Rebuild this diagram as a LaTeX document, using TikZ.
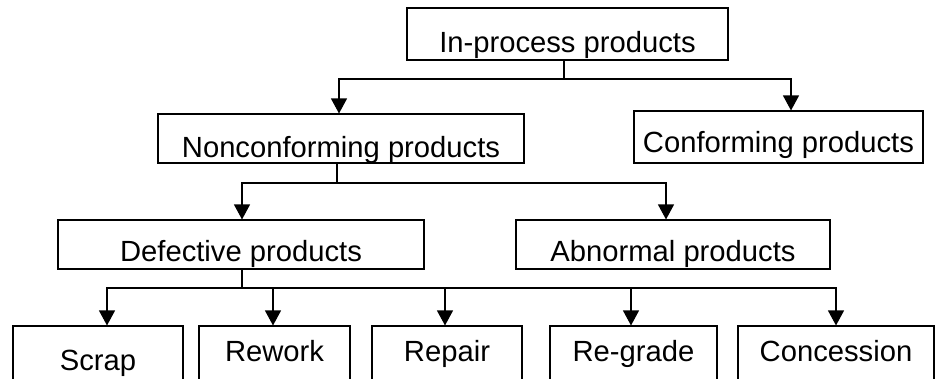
\documentclass[tikz,border=0pt]{standalone}
\usepackage{fontspec}
\setmainfont{Liberation Sans}
\usetikzlibrary{arrows.meta}
\begin{document}
\begin{tikzpicture}[x=1pt,y=-1pt,line width=1.1pt,
  box/.style={draw, inner sep=0pt, text depth=0pt, font=\fontsize{29.2}{30}\selectfont},
  arr/.style={-{Triangle[width=16pt,length=15pt]}}]
\clip (0,0) rectangle (936,378);
% level 0
\node[box, minimum width=321pt, minimum height=52pt, text height=36pt] (ip) at (567.5,34) {In-process products};
% level 1
\node[box, minimum width=366pt, minimum height=49pt, text height=37pt] (nc) at (341,138.5) {Nonconforming products};
\node[box, minimum width=289pt, minimum height=52pt, text height=30pt] (cf) at (778.5,137) {Conforming products};
% level 2
\node[box, minimum width=366pt, minimum height=49pt, text height=34pt] (df) at (241,244.5) {Defective products};
\node[box, minimum width=314pt, minimum height=49pt, text height=34pt] (ab) at (673,244.5) {Abnormal products};
% level 3
\node[box, minimum width=170pt, minimum height=56pt, text height=32pt] (sc) at (98,354) {Scrap};
\node[box, minimum width=151pt, minimum height=56pt, text height=14pt] (rw) at (274.5,354) {Rework};
\node[box, minimum width=150pt, minimum height=56pt, text height=14pt] (rp) at (447,354) {Repair};
\node[box, minimum width=167pt, minimum height=56pt, text height=14pt] (rg) at (633.5,354) {Re-grade};
\node[box, minimum width=196pt, minimum height=56pt, text height=14pt] (cs) at (836,354) {Concession};
% connectors
\coordinate (j1) at (564,79);
\draw (ip.south -| j1) -- (j1);
\draw[arr] (j1) -| ([xshift=-2pt]nc.north);
\draw[arr] (j1) -| ([xshift=12.5pt]cf.north);
\coordinate (j2) at (337,183);
\draw (nc.south -| j2) -- (j2);
\draw[arr] (j2) -| ([xshift=1pt]df.north);
\draw[arr] (j2) -| ([xshift=-7pt]ab.north);
\coordinate (j3) at (242,288);
\draw (df.south -| j3) -- (j3);
\draw[arr] (j3) -| ([xshift=9pt]sc.north);
\draw[arr] (j3) -| ([xshift=-1.5pt]rw.north);
\draw[arr] (j3) -| ([xshift=-2pt]rp.north);
\draw[arr] (j3) -| ([xshift=-2.5pt]rg.north);
\draw[arr] (j3) -| (cs.north);
\end{tikzpicture}
\end{document}
